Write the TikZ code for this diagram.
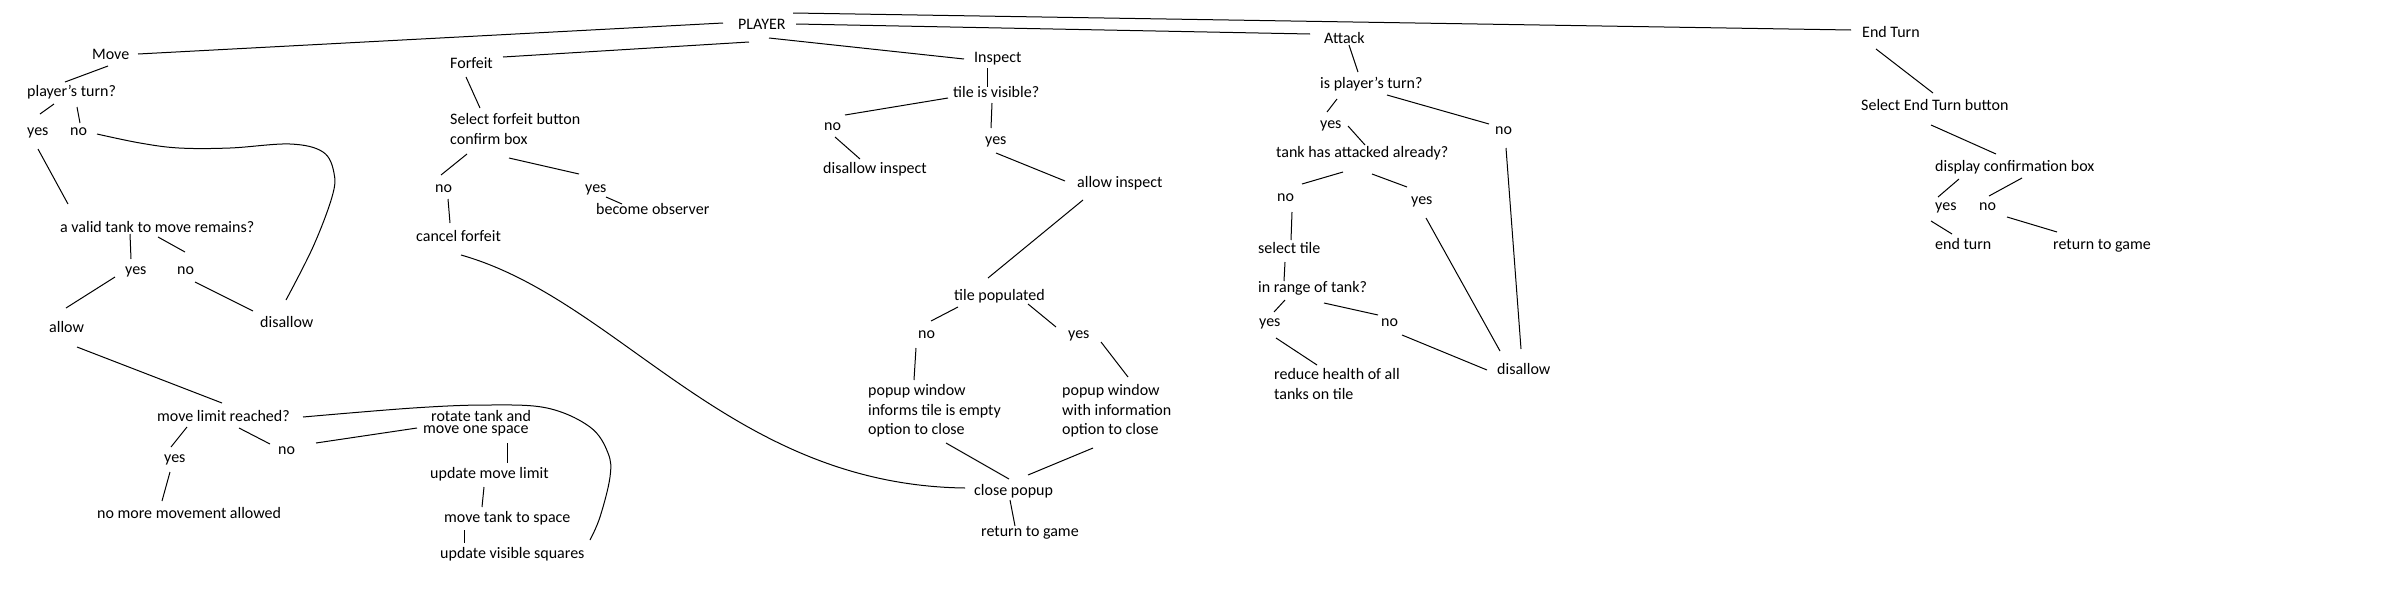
\documentclass[tikz,border=0pt]{standalone}
\usepackage{fontspec}
\setmainfont{Carlito}
\usetikzlibrary{calc}
\newcommand\conn[4]{\draw[link] ($(#1)+(#2)$) -- ($(#3)+(#4)$);}
\begin{document}
\begin{tikzpicture}[x=1pt,y=-1pt,
  lbl/.style={anchor=base west, inner sep=0pt, font=\fontsize{16pt}{19.7pt}\selectfont},
  mlbl/.style={anchor=west, inner sep=0pt, align=left, font=\fontsize{16pt}{19.7pt}\selectfont},
  link/.style={line width=1pt}]
\useasboundingbox[fill=white] (0,0) rectangle (2400,600);
% top level
\node[lbl] (player) at (738,29) {PLAYER};
\node[lbl] (move) at (92,59) {Move};
\node[lbl] (forfeit) at (450,68) {Forfeit};
\node[lbl] (inspect) at (974,62) {Inspect};
\node[lbl] (attack) at (1324,43) {Attack};
\node[lbl] (endturn) at (1862,37) {End Turn};
% move branch
\node[lbl] (mpt) at (27,96) {player's turn?};
\node[lbl] (myes) at (27,135) {yes};
\node[lbl] (mno) at (70,135) {no};
\node[lbl] (mvalid) at (60,232) {a valid tank to move remains?};
\node[lbl] (myes2) at (125,274) {yes};
\node[lbl] (mno2) at (177,274) {no};
\node[lbl] (mallow) at (49,332) {allow};
\node[lbl] (mdis) at (260,327) {disallow};
\node[lbl] (mlimit) at (157,421) {move limit reached?};
\node[lbl] (myes3) at (164,462) {yes};
\node[lbl] (mno3) at (278,454) {no};
\node[lbl] (mnomore) at (97,518) {no more movement allowed};
\node[lbl] (mrot) at (431,421) {rotate tank and};
\node[lbl] (mone) at (423,433) {move one space};
\node[lbl] (mupd) at (430,478) {update move limit};
\node[lbl] (mtank) at (444,522) {move tank to space};
\node[lbl] (mvis) at (440,558) {update visible squares};
% forfeit branch
\node[mlbl] (fsel) at (450,129) {Select forfeit button\\confirm box};
\node[lbl] (fno) at (435,192) {no};
\node[lbl] (fyes) at (585,192) {yes};
\node[lbl] (fobs) at (596,214) {become observer};
\node[lbl] (fcancel) at (416,241) {cancel forfeit};
% inspect branch
\node[lbl] (itv) at (953,97) {tile is visible?};
\node[lbl] (ino) at (824,130) {no};
\node[lbl] (iyes) at (985,144) {yes};
\node[lbl] (idis) at (823,173) {disallow inspect};
\node[lbl] (iallow) at (1077,187) {allow inspect};
\node[lbl] (ipop) at (954,300) {tile populated};
\node[lbl] (ino2) at (918,338) {no};
\node[lbl] (iyes2) at (1068,338) {yes};
\node[mlbl] (iwin1) at (868,411) {popup window\\informs tile is empty\\option to close};
\node[mlbl] (iwin2) at (1062,411) {popup window\\with information\\option to close};
\node[lbl] (iclose) at (974,495) {close popup};
\node[lbl] (iret) at (981,536) {return to game};
% attack branch
\node[lbl] (apt) at (1320,88) {is player's turn?};
\node[lbl] (ayes) at (1320,128) {yes};
\node[lbl] (ano) at (1495,134) {no};
\node[lbl] (ahas) at (1276,157) {tank has attacked already?};
\node[lbl] (ano2) at (1277,201) {no};
\node[lbl] (ayes2) at (1411,204) {yes};
\node[lbl] (asel) at (1258,253) {select tile};
\node[lbl] (arange) at (1258,292) {in range of tank?};
\node[lbl] (ayes3) at (1259,326) {yes};
\node[lbl] (ano3) at (1381,326) {no};
\node[mlbl] (ared) at (1274,384) {reduce health of all\\tanks on tile};
\node[lbl] (adis) at (1497,374) {disallow};
% end turn branch
\node[lbl] (esel) at (1861,110) {Select End Turn button};
\node[lbl] (econf) at (1935,171) {display confirmation box};
\node[lbl] (eyes) at (1935,210) {yes};
\node[lbl] (eno) at (1979,210) {no};
\node[lbl] (eend) at (1935,249) {end turn};
\node[lbl] (eret) at (2053,249) {return to game};
% connectors: top level
\conn{player.base west}{-15,-6}{move.base west}{46,-5}
\conn{player.base west}{11,13}{forfeit.base west}{53,-11}
\conn{player.base west}{31,9}{inspect.base west}{-10,-3}
\conn{player.base west}{58,-5}{attack.base west}{-14,-9}
\conn{player.base west}{55,-16}{endturn.base west}{-11,-7}
% move
\conn{move.base west}{16,7}{mpt.base west}{38,-14}
\conn{mpt.base west}{27,8}{myes.base west}{13,-21}
\conn{mpt.base west}{50,11}{mno.base west}{10,-12}
\coordinate (c1s) at ($(mno.base west)+(27,-1)$);
\coordinate (c1e) at ($(mdis.base west)+(26,-27)$);
\draw[link] plot[smooth, tension=0.6] coordinates {(c1s) (140,143) (179,148) (230,148) (290,144) (323,152) (334,173) (332,197) (313,247) (c1e)};
\conn{myes.base west}{11,14}{mvalid.base west}{8,-28}
\conn{mvalid.base west}{70,2}{myes2.base west}{6,-15}
\conn{mvalid.base west}{98,5}{mno2.base west}{8,-22}
\conn{myes2.base west}{-10,3}{mallow.base west}{17,-24}
\conn{mno2.base west}{18,8}{mdis.base west}{-7,-16}
\conn{mallow.base west}{28,15}{mlimit.base west}{65,-18}
\conn{mlimit.base west}{30,6}{myes3.base west}{7,-15}
\conn{mlimit.base west}{82,7}{mno3.base west}{-8,-10}
\conn{myes3.base west}{6,10}{mnomore.base west}{65,-17}
\conn{mno3.base west}{38,-11}{mone.base west}{-6,-5}
\coordinate (c2s) at ($(mlimit.base west)+(146,-4)$);
\coordinate (c2e) at ($(mvis.base west)+(150,-18)$);
\draw[link] plot[smooth, tension=0.6] coordinates {(c2s) (413,408) (487,405) (547,408) (590,427) (608,453) (610,477) (600,517) (c2e)};
\conn{mone.base west}{84,10}{mupd.base west}{77,-15}
\conn{mupd.base west}{54,9}{mtank.base west}{38,-15}
\conn{mtank.base west}{20,8}{mvis.base west}{24,-15}
% forfeit
\conn{forfeit.base west}{16,9}{fsel.west}{30,-21}
\conn{fsel.west}{17,25}{fno.base west}{6,-17}
\conn{fsel.west}{59,29}{fyes.base west}{-6,-18}
\conn{fyes.base west}{21,5}{fobs.base west}{26,-10}
\conn{fno.base west}{13,7}{fcancel.base west}{34,-18}
\draw[link] ($(fcancel.base west)+(45,14)$) .. controls (620,300) and (730,485) .. ($(iclose.base west)+(-9,-7)$);
% inspect
\conn{inspect.base west}{13,6}{itv.base west}{34,-10}
\conn{itv.base west}{-5,1}{ino.base west}{21,-15}
\conn{itv.base west}{39,6}{iyes.base west}{6,-16}
\conn{ino.base west}{11,7}{idis.base west}{37,-14}
\conn{iyes.base west}{11,9}{iallow.base west}{-12,-6}
\conn{iallow.base west}{6,13}{ipop.base west}{34,-22}
\conn{ipop.base west}{4,7}{ino2.base west}{13,-17}
\conn{ipop.base west}{74,4}{iyes2.base west}{-12,-11}
\conn{ino2.base west}{-2,10}{iwin1.west}{46,-31}
\conn{iyes2.base west}{33,4}{iwin2.west}{66,-34}
\conn{iwin1.west}{78,32}{iclose.base west}{35,-16}
\conn{iwin2.west}{31,37}{iclose.base west}{54,-20}
\conn{iclose.base west}{36,5}{iret.base west}{34,-10}
% attack
\conn{attack.base west}{25,2}{apt.base west}{38,-16}
\conn{apt.base west}{17,11}{ayes.base west}{7,-16}
\conn{apt.base west}{67,7}{ano.base west}{-6,-10}
\conn{ayes.base west}{28,-2}{ahas.base west}{89,-12}
\conn{ahas.base west}{67,15}{ano2.base west}{25,-17}
\conn{ahas.base west}{96,17}{ayes2.base west}{-4,-17}
\conn{ano2.base west}{15,11}{asel.base west}{33,-13}
\conn{asel.base west}{27,9}{arange.base west}{26,-11}
\conn{arange.base west}{27,8}{ayes3.base west}{15,-14}
\conn{arange.base west}{66,11}{ano3.base west}{-3,-11}
\conn{ayes3.base west}{17,12}{ared.west}{43,-19}
\conn{ano3.base west}{21,9}{adis.base west}{-10,-4}
\conn{ayes2.base west}{15,14}{adis.base west}{3,-23}
\conn{ano.base west}{11,14}{adis.base west}{24,-25}
% end turn
\conn{endturn.base west}{14,12}{esel.base west}{72,-17}
\conn{esel.base west}{70,15}{econf.base west}{61,-17}
\conn{econf.base west}{24,8}{eyes.base west}{3,-13}
\conn{econf.base west}{87,7}{eno.base west}{10,-14}
\conn{eyes.base west}{-4,11}{eend.base west}{17,-15}
\conn{eno.base west}{28,7}{eret.base west}{4,-17}
\end{tikzpicture}
\end{document}
